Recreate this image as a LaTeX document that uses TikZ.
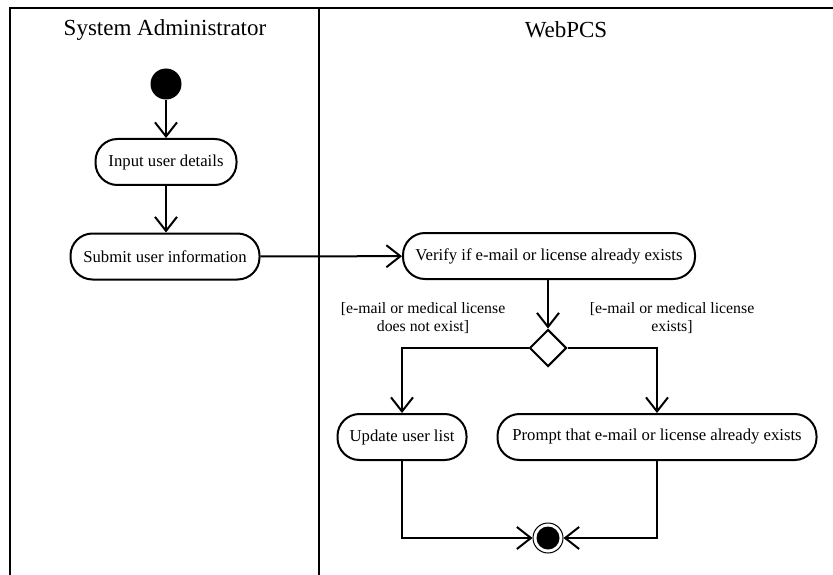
\documentclass[tikz,border=0pt]{standalone}
\usepackage{fontspec}
\setmainfont{Liberation Serif}
\usetikzlibrary{arrows.meta,shapes.geometric}
\begin{document}
\begin{tikzpicture}[x=1pt,y=-1pt,
  lane/.style={line width=2.2pt},
  act/.style={draw,line width=2pt,rounded corners=22pt,minimum height=46pt,inner sep=0pt,font=\fontsize{16.7}{19}\selectfont,fill=white},
  flow/.style={line width=2pt,-{Straight Barb[length=14pt,width=22pt]}},
  guard/.style={align=center,font=\fontsize{15.8}{18}\selectfont,inner sep=0pt},
  hdr/.style={font=\fontsize{23}{26}\selectfont,inner sep=0pt}]
\useasboundingbox (0,0) rectangle (833,575);
% swimlanes
\draw[lane] (10,575) -- (10,8) -- (833,8);
\draw[lane] (319,8) -- (319,575);
\node[hdr] (h1) at (165,30) {System Administrator};
\node[hdr] (h2) at (566,30) {WebPCS};
% nodes
\node[circle,fill=black,minimum size=31pt,inner sep=0pt] (start) at (166,84) {};
\node[act,minimum width=141pt] (input) at (166,162) {Input user details};
\node[act,minimum width=189pt] (submit) at (165,256.5) {Submit user information};
\node[act,minimum width=292pt] (verify) at (549,256) {Verify if e-mail or license already exists};
\node[diamond,draw,line width=2pt,minimum width=37pt,minimum height=37pt,inner sep=0pt,aspect=1] (dec) at (548,348) {};
\node[act,minimum width=129pt] (update) at (402,437) {Update user list};
\node[act,minimum width=319pt] (prompt) at (657,437) {Prompt that e-mail or license already exists};
\node[circle,draw,line width=1pt,minimum size=30pt,inner sep=0pt] (final) at (548,538) {};
\node[circle,fill=black,minimum size=23pt,inner sep=0pt] (finalin) at (548,538) {};
% guards
\node[guard] (g1) at (423,318) {[e-mail or medical license\\does not exist]};
\node[guard] (g2) at (672,318) {[e-mail or medical license\\exists]};
% flows
\draw[flow] (start) -- (input);
\draw[flow] (input) -- (input |- submit.north);
\draw[flow] (submit) -- (verify);
\draw[flow] (verify.south -| dec) -- (dec.north);
\draw[flow] (dec.west) -| (update.north);
\draw[flow] (dec.east) -| (prompt.north);
\draw[flow] (update.south) |- (final.west);
\draw[flow] (prompt.south) |- (final.east);
\end{tikzpicture}
\end{document}
